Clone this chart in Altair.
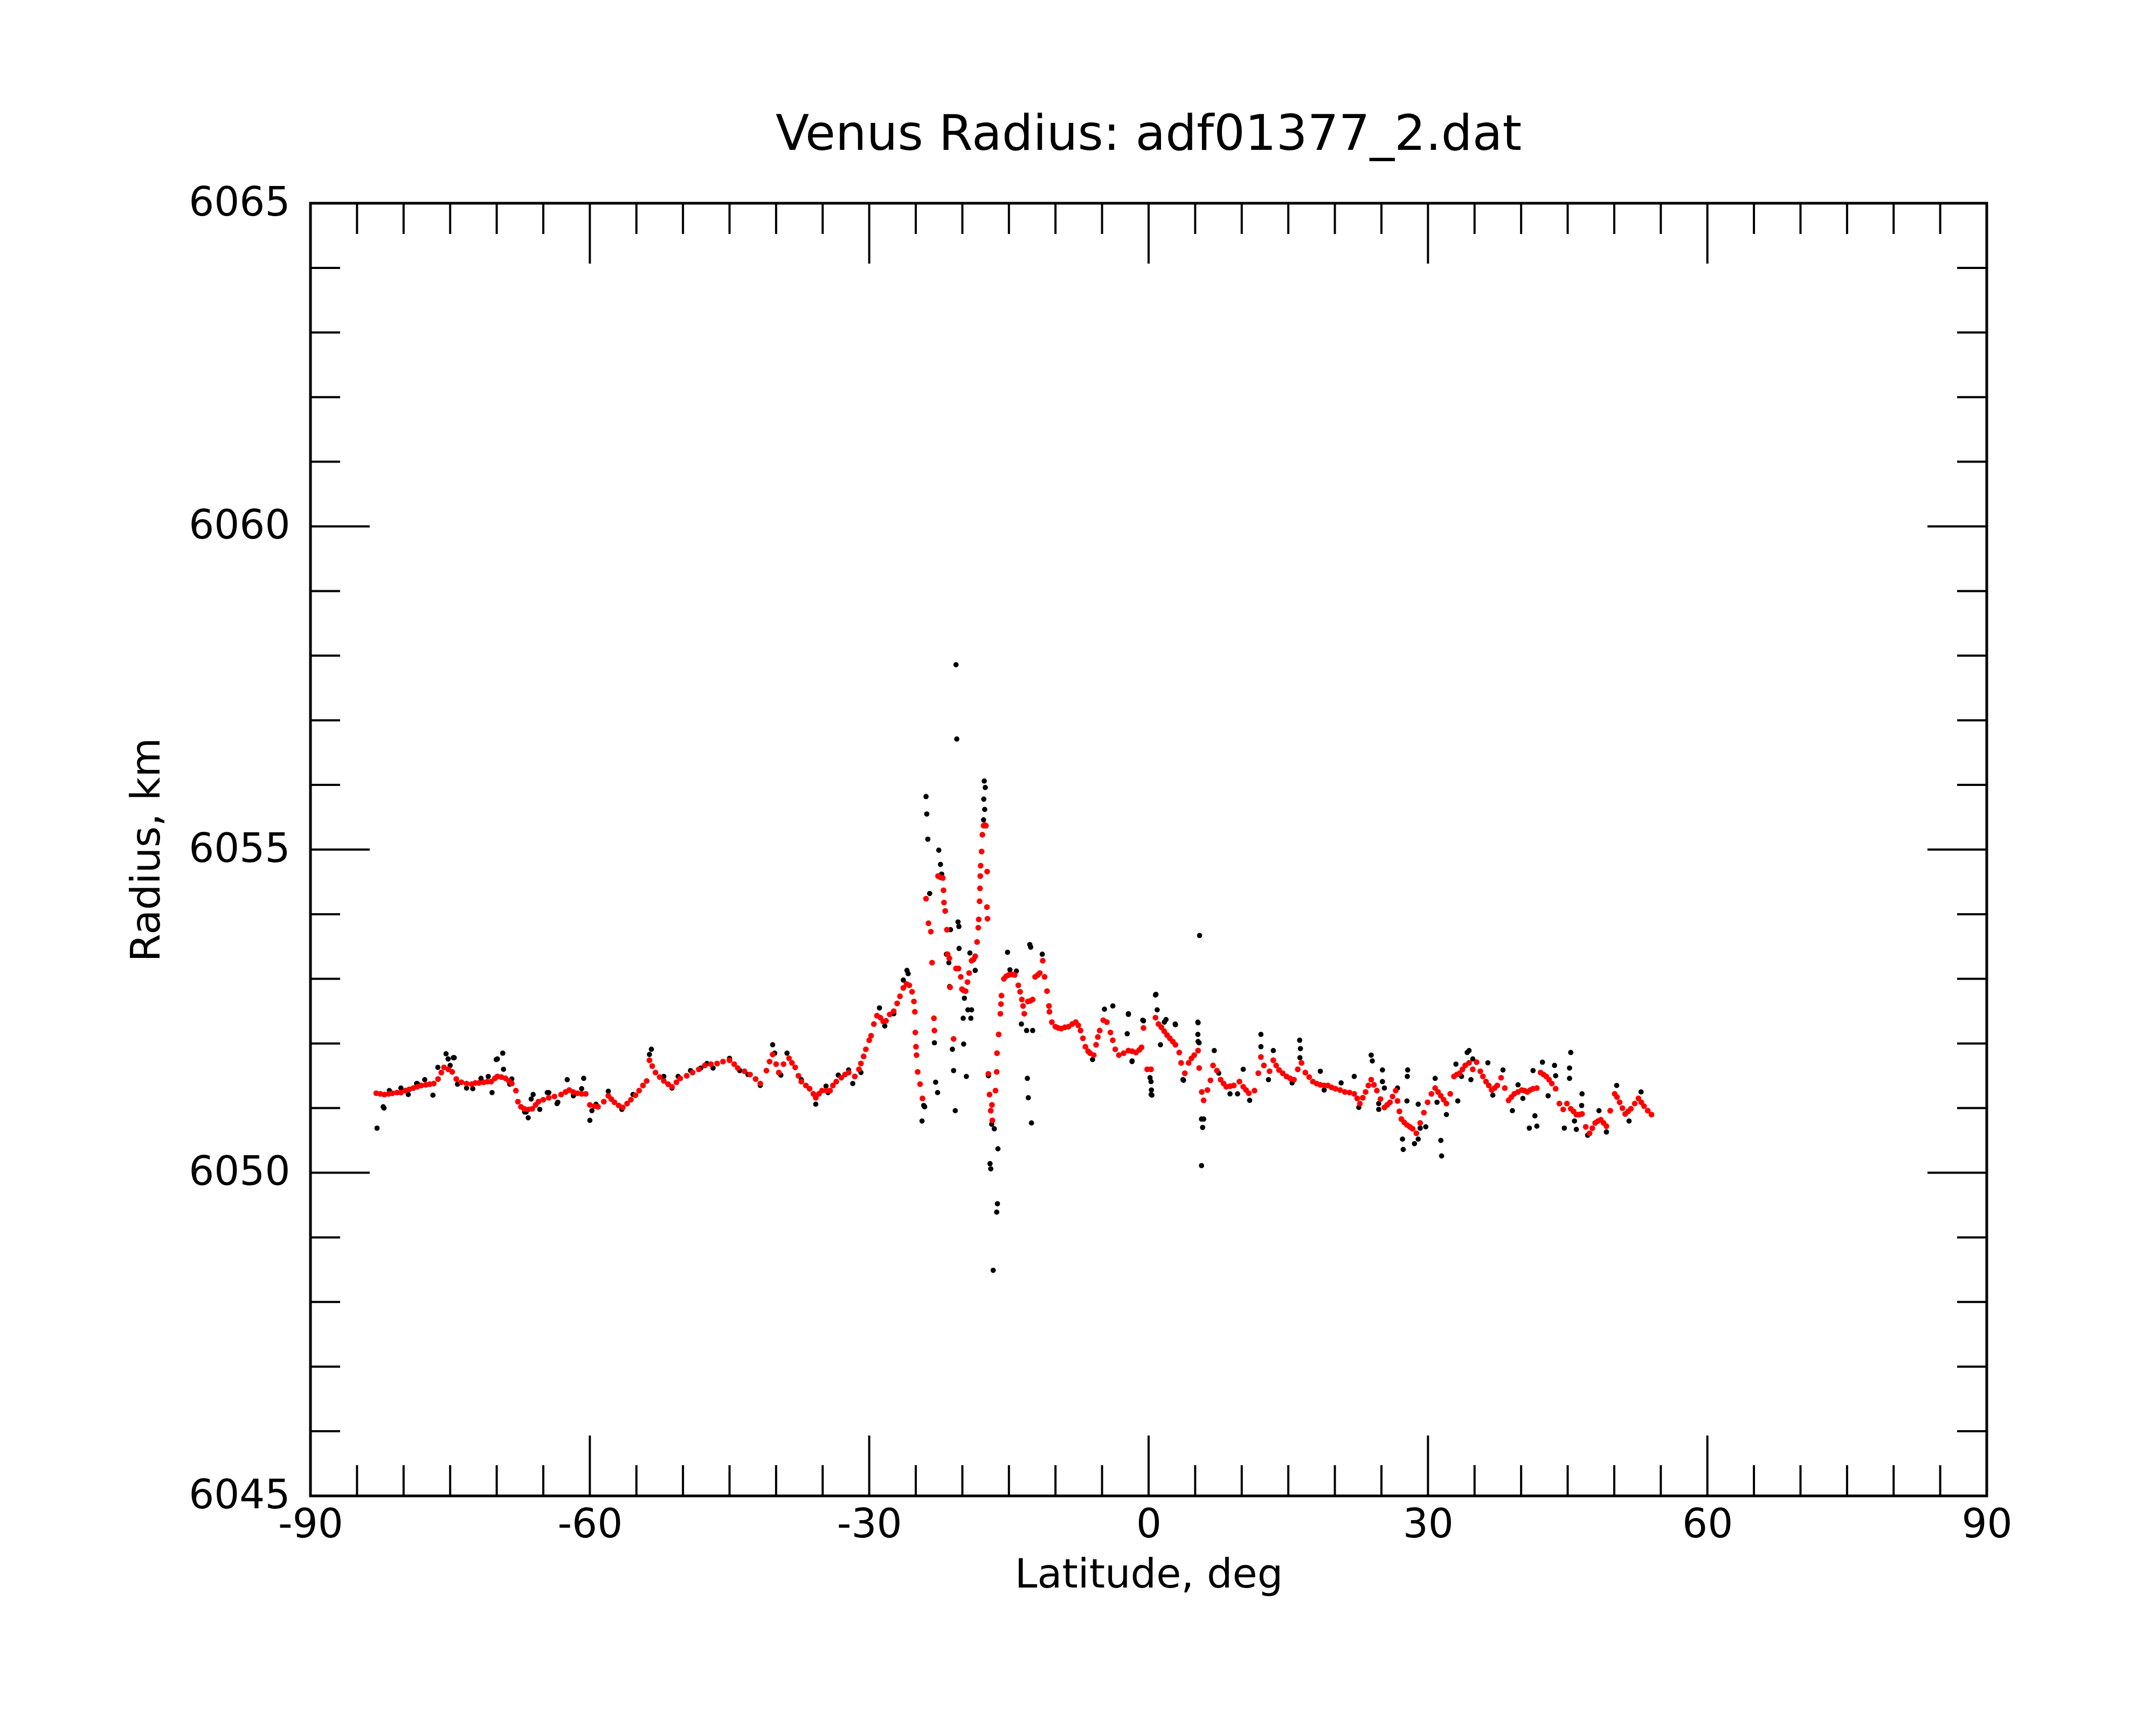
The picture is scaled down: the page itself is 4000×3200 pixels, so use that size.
import altair as alt
import pandas as pd

# ---------------- data ----------------
red_lat = [-82.94, -82.5, -82.06, -81.6, -81.2, -80.7, -80.29, -79.8, -79.4, -78.95, -78.53, -78.1, -77.6, -77.2,
           -76.76, -76.3, -75.95, -75.66, -75.2, -74.78, -74.34, -73.8, -73.24, -72.7, -72.3, -71.9, -71.4, -71.0,
           -70.59, -70.2, -69.93, -69.5, -69.05, -68.7, -68.38, -67.94, -67.72, -67.4, -67.06, -66.6, -66.18, -65.82,
           -65.52, -65.0, -64.41, -63.8, -63.09, -62.6, -62.21, -61.8, -61.33, -60.9, -60.44, -60.0, -59.5, -59.12,
           -58.5, -58.02, -57.7, -57.36, -56.9, -56.47, -56.0, -55.59, -55.1, -54.71, -54.3, -53.9, -53.6, -53.3,
           -52.95, -52.5, -52.06, -51.6, -51.18, -50.7, -50.3, -49.6, -48.97, -48.3, -47.65, -47.0, -46.33, -45.7,
           -45.0, -44.5, -44.12, -43.4, -42.8, -42.2, -41.7, -41.04, -40.7, -40.37, -40.0, -39.71, -39.2, -38.61,
           -38.3, -37.95, -37.6, -37.29, -36.8, -36.4, -36.0, -35.74, -35.4, -35.08, -34.6, -34.2, -33.9, -33.54,
           -33.0, -32.6, -32.21, -31.55, -31.1, -30.89, -30.6, -30.36, -30.0, -29.8, -29.5, -29.17, -28.8, -28.5,
           -28.2, -27.8, -27.37, -27.0, -26.7, -26.34, -26.0, -25.7, -25.4, -25.2, -25.1, -25.05, -24.98, -24.92,
           -24.8, -24.54, -24.28, -23.9, -23.64, -23.38, -23.25, -23.05, -23.0, -22.61, -22.35, -22.1, -22.02,
           -21.97, -21.84, -21.66, -21.58, -21.4, -21.32, -20.94, -20.68, -20.42, -20.17, -20.04, -19.85, -19.65,
           -19.45, -19.27, -19.01, -18.8, -18.62, -18.42, -18.29, -18.24, -18.15, -18.11, -18.07, -18.03, -17.93,
           -17.85, -17.72, -17.6, -17.47, -17.34, -17.36, -17.3, -17.21, -17.08, -16.95, -16.82, -16.78, -16.44,
           -16.31, -16.28, -16.1, -15.92, -15.85, -15.8, -15.54, -15.3, -15.02, -14.7, -14.38, -13.99, -13.8,
           -13.61, -13.48, -13.35, -12.97, -12.7, -12.45, -12.19, -11.9, -11.68, -11.37, -11.17, -10.91, -10.7,
           -10.65, -10.39, -10.01, -9.7, -9.37, -9.0, -8.6, -8.2, -7.82, -7.55, -7.31, -7.05, -6.79, -6.5, -6.28,
           -5.89, -5.64, -5.45, -5.25, -4.87, -4.48, -4.1, -3.85, -3.58, -3.19, -2.68, -2.17, -1.77, -1.36, -1.0,
           -0.76, -0.55, -0.15, 0.26, 0.74, 1.06, 1.37, 1.67, 1.98, 2.28, 2.6, 2.88, 3.29, 3.49, 3.89, 4.3, 4.6,
           4.9, 5.31, 5.43, 5.71, 5.91, 6.32, 6.64, 6.92, 7.33, 7.73, 8.05, 8.34, 8.75, 9.15, 9.75, 10.16, 10.46,
           10.76, 11.37, 11.78, 12.06, 12.38, 12.99, 13.39, 13.7, 14.0, 14.4, 14.81, 15.2, 15.61, 16.02, 16.42,
           16.83, 17.24, 17.64, 18.04, 18.44, 18.85, 19.25, 19.65, 20.06, 20.56, 21.07, 21.57, 22.08, 22.4, 22.69,
           23.0, 23.3, 23.6, 23.9, 24.2, 24.51, 24.9, 25.32, 25.62, 25.92, 26.2, 26.53, 26.73, 26.93, 27.14, 27.44,
           27.74, 28.05, 28.35, 28.75, 29.16, 29.56, 29.96, 30.37, 30.77, 31.08, 31.38, 31.68, 31.98, 32.39, 32.79,
           33.1, 33.4, 33.7, 34.0, 34.41, 34.81, 35.22, 35.62, 35.9, 36.23, 36.53, 36.84, 37.14, 37.44, 37.85,
           38.25, 38.65, 38.95, 39.26, 39.66, 40.07, 40.37, 40.67, 40.98, 41.28, 41.69, 42.09, 42.4, 42.7, 43.0,
           43.3, 43.71, 44.11, 44.52, 44.92, 45.33, 45.63, 45.93, 46.24, 46.54, 46.94, 47.35, 47.65, 47.95, 48.26,
           48.56, 48.86, 49.16, 49.57, 50.05, 50.3, 50.58, 50.88, 51.18, 51.49, 51.79, 52.2, 52.6, 52.9, 53.2,
           53.6, 54.0]
red_r = [6051.23, 6051.22, 6051.21, 6051.22, 6051.23, 6051.24, 6051.24, 6051.27, 6051.29, 6051.31, 6051.33, 6051.35,
         6051.36, 6051.37, 6051.38, 6051.45, 6051.55, 6051.63, 6051.6, 6051.56, 6051.45, 6051.4, 6051.38, 6051.37,
         6051.39, 6051.39, 6051.4, 6051.41, 6051.41, 6051.46, 6051.49, 6051.48, 6051.46, 6051.42, 6051.38, 6051.27,
         6051.10, 6051.02, 6050.99, 6050.98, 6050.99, 6051.05, 6051.10, 6051.13, 6051.16, 6051.18, 6051.21, 6051.25,
         6051.28, 6051.25, 6051.23, 6051.22, 6051.22, 6051.05, 6051.03, 6051.02, 6051.1, 6051.19, 6051.14, 6051.09,
         6051.04, 6051.01, 6051.07, 6051.13, 6051.2, 6051.27, 6051.35, 6051.42, 6051.74, 6051.65, 6051.55, 6051.48,
         6051.42, 6051.37, 6051.33, 6051.4, 6051.46, 6051.5, 6051.55, 6051.6, 6051.66, 6051.68, 6051.69, 6051.72,
         6051.74, 6051.68, 6051.62, 6051.57, 6051.52, 6051.45, 6051.38, 6051.58, 6051.72, 6051.83, 6051.68, 6051.55,
         6051.68, 6051.77, 6051.7, 6051.63, 6051.5, 6051.41, 6051.35, 6051.30, 6051.22, 6051.16, 6051.22, 6051.27,
         6051.27, 6051.27, 6051.35, 6051.41, 6051.47, 6051.52, 6051.55, 6051.49, 6051.6, 6051.69, 6051.8, 6051.91,
         6052.05, 6052.12, 6052.3, 6052.43, 6052.4, 6052.34, 6052.35, 6052.45, 6052.5, 6052.62, 6052.73, 6052.86,
         6052.92, 6052.9, 6052.8, 6052.65, 6052.49, 6052.17, 6051.95, 6051.82, 6051.56, 6051.37, 6051.15, 6054.24,
         6053.86, 6053.73, 6053.25, 6052.39, 6052.2, 6054.59, 6054.57, 6054.56, 6054.37, 6054.18, 6054.05, 6053.76,
         6053.38, 6053.32, 6052.87, 6052.07, 6053.16, 6053.16, 6053.03, 6052.84, 6052.82, 6052.81, 6052.95, 6053.09,
         6053.28, 6053.3, 6053.35, 6053.57, 6053.79, 6053.92, 6054.2, 6054.40, 6054.59, 6054.75, 6054.97, 6055.23,
         6055.37, 6055.38, 6055.37, 6054.66, 6054.11, 6053.93, 6051.53, 6051.21, 6050.96, 6051.05, 6050.81, 6051.27,
         6051.56, 6051.85, 6052.14, 6052.46, 6052.61, 6052.74, 6053.0, 6053.04, 6053.06, 6053.07, 6053.06, 6052.9,
         6052.8, 6052.68, 6052.58, 6052.46, 6052.65, 6052.66, 6052.68, 6053.03, 6053.06, 6053.09, 6053.28, 6053.03,
         6052.81, 6052.58, 6052.49, 6052.33, 6052.26, 6052.24, 6052.23, 6052.25, 6052.26, 6052.3, 6052.33, 6052.28,
         6052.2, 6052.08, 6051.95, 6051.88, 6051.85, 6051.82, 6051.98, 6052.1, 6052.2, 6052.36, 6052.33, 6052.17,
         6052.05, 6051.91, 6051.82, 6051.85, 6051.89, 6051.88, 6051.86, 6051.9, 6051.94, 6052.24, 6051.6, 6051.6,
         6052.4, 6052.3, 6052.25, 6052.19, 6052.13, 6052.08, 6052.03, 6051.98, 6051.86, 6051.7, 6051.54, 6051.7,
         6051.77, 6051.82, 6051.89, 6051.62, 6051.25, 6051.12, 6051.28, 6051.43, 6051.66, 6051.58, 6051.44, 6051.38,
         6051.33, 6051.34, 6051.35, 6051.41, 6051.33, 6051.28, 6051.23, 6051.27, 6051.54, 6051.79, 6051.66, 6051.57,
         6051.74, 6051.66, 6051.59, 6051.54, 6051.49, 6051.46, 6051.44, 6051.6, 6051.7, 6051.55, 6051.48, 6051.41,
         6051.38, 6051.36, 6051.35, 6051.35, 6051.32, 6051.3, 6051.28, 6051.25, 6051.24, 6051.22, 6051.15, 6051.07,
         6051.16, 6051.25, 6051.35, 6051.44, 6051.36, 6051.27, 6051.14, 6051.01, 6051.05, 6051.09, 6051.18, 6051.27,
         6051.11, 6050.95, 6050.83, 6050.78, 6050.74, 6050.71, 6050.68, 6050.61, 6050.77, 6050.93, 6051.09, 6051.22,
         6051.31, 6051.25, 6051.19, 6051.13, 6051.07, 6051.22, 6051.49, 6051.52, 6051.54, 6051.6, 6051.66, 6051.7,
         6051.6, 6051.71, 6051.57, 6051.49, 6051.41, 6051.35, 6051.28, 6051.31, 6051.35, 6051.47, 6051.31, 6051.12,
         6051.17, 6051.22, 6051.25, 6051.28, 6051.27, 6051.25, 6051.28, 6051.3, 6051.31, 6051.55, 6051.52, 6051.49,
         6051.44, 6051.38, 6051.3, 6051.07, 6050.98, 6051.07, 6050.99, 6050.95, 6050.9, 6050.9, 6050.91, 6050.71,
         6050.61, 6050.69, 6050.77, 6050.8, 6050.82, 6050.77, 6050.72, 6050.96, 6051.22, 6051.17, 6051.09, 6051.0,
         6050.91, 6050.95, 6050.99, 6051.07, 6051.15, 6051.09, 6051.03, 6050.96, 6050.9]

black_lat = [-82.85, -82.19, -82.1, -81.53, -80.29, -79.5, -78.53, -77.73, -76.85, -76.32, -75.44, -75.22, -74.56,
             -74.21, -73.24, -72.57, -71.69, -70.5, -69.93, -69.35, -69.27, -68.38, -66.84, -66.62, -66.09, -65.38,
             -64.41, -63.44, -62.43, -61.77, -60.88, -60.66, -60.0, -59.78, -59.34, -58.02, -56.56, -55.37, -54.27,
             -53.39, -53.6, -52.06, -51.18, -50.52, -49.19, -48.09, -47.43, -46.77, -45.0, -43.9, -43.02, -41.7,
             -40.37, -40.15, -39.49, -38.83, -37.29, -35.74, -34.64, -34.42, -33.32, -32.21, -31.77, -30.89, -28.9,
             -28.33, -27.36, -25.95, -25.82, -26.34, -24.33, -24.15, -24.05,
             -23.9, -23.82, -23.71, -23.51, -23.0, -22.87, -22.66, -22.53, -22.35, -22.22, -21.71, -21.45, -21.37,
             -21.27, -21.07, -20.94, -20.76, -20.68, -20.6, -20.47, -20.37, -20.35, -19.91, -19.86, -19.78, -19.57,
             -19.4, -19.19, -19.09, -19.01, -18.62, -17.72, -17.7, -17.65, -17.6, -17.54, -17.2, -17.03, -16.95,
             -16.85, -16.69, -16.57, -16.31, -16.23, -16.18, -15.15, -14.89, -14.2, -13.66, -13.1, -13.02, -12.92,
             -12.76, -12.66, -12.58, -12.45, -11.42, -6.02, -4.74, -3.84, -2.3, -2.17, -1.78, -0.63, 0.15, 0.27,
             0.79, 0.92, 1.69, 2.85, 3.75, 5.29, 5.29, 5.42, 5.47, 5.68, 5.8, 5.68,
             -2.17, -0.55, 0.74, 1.87, 2.88, 5.31, 5.31, -1.77, 0.26, 0.3, 0.35, 3.69, 1.27, 5.91, 7.05, 7.53, 8.74,
             9.55, 10.16, 10.85, 12.06, 12.06, 13.39, 12.87, 16.22, 16.3, 16.25, 15.41, 18.44, 18.85, 20.67, 22.08,
             22.57, 23.9, 24.02, 25.11, 25.11, 25.32, 24.71, 24.71, 26.73, 27.82, 27.78, 27.74, 27.26, 27.34, 28.95,
             28.55, 29.16, 29.76, 28.95, 30.77, 30.97, 31.98, 31.38, 31.46, 33.2, 33.0, 34.21, 34.41, 34.81, 33.6,
             34.61, 36.43, 36.96, 38.05, 39.06, 39.67, 40.19, 40.88, 41.48, 41.69, 42.29, 41.28, 43.59, 43.71, 42.9,
             45.33, 45.2, 45.2, 44.64, 45.93, 45.73, 46.54, 46.5, 48.36, 49.16, 50.26, 51.59, 52.88, 47.14,
             -78.6, -75.0, -74.66, -70.91, -70.05, -68.6, -67.0, -66.3, -64.57, -63.52]
black_r = [6050.69, 6051.02, 6051.0, 6051.27, 6051.31, 6051.21, 6051.38, 6051.44, 6051.2, 6051.63, 6051.84, 6051.76,
           6051.78, 6051.37, 6051.31, 6051.3, 6051.46, 6051.24, 6051.76, 6051.85, 6051.6, 6051.45, 6050.94, 6050.85,
           6051.21, 6050.98, 6051.24, 6051.09, 6051.44, 6051.19, 6051.3, 6051.46, 6050.81, 6050.96, 6051.06, 6051.26,
           6050.98, 6051.21, 6051.35, 6051.91, 6051.83, 6051.49, 6051.31, 6051.49, 6051.58, 6051.62, 6051.69, 6051.62,
           6051.77, 6051.58, 6051.52, 6051.35, 6051.98, 6051.85, 6051.51, 6051.85, 6051.44, 6051.06, 6051.34, 6051.24,
           6051.51, 6051.59, 6051.38, 6051.55, 6052.55, 6052.27, 6052.46, 6053.13, 6053.08, 6052.98, 6050.8, 6051.04,
           6051.02,
           6055.82, 6055.55, 6055.16, 6054.32, 6052.01, 6051.4, 6051.24, 6054.99, 6054.77, 6054.62, 6053.38, 6053.25,
           6052.88, 6053.76, 6051.91, 6051.58, 6050.96, 6057.86, 6056.71, 6053.88, 6053.81, 6053.47, 6052.39, 6051.99,
           6052.7, 6051.49, 6052.52, 6053.4, 6052.39, 6052.52, 6053.13, 6055.46, 6055.78, 6056.06, 6055.62, 6055.96,
           6051.5, 6050.14, 6050.06, 6050.75, 6048.49, 6050.68, 6049.39, 6049.52, 6050.37, 6053.41, 6053.14, 6053.12,
           6052.3, 6052.2, 6051.46, 6051.16, 6053.53, 6053.49, 6050.77, 6052.2, 6053.38, 6051.75, 6052.53, 6052.58,
           6052.15, 6052.46, 6051.72, 6052.36, 6051.47, 6051.21, 6052.76, 6052.52, 6052.33, 6052.3, 6051.43, 6052.33,
           6052.14, 6052.01, 6053.67, 6050.83, 6050.7, 6050.11,
           6052.45, 6052.35, 6052.75, 6052.37, 6052.29, 6052.32, 6052.03, 6051.73, 6051.41, 6051.28, 6051.2, 6051.44,
           6051.98, 6050.83, 6051.89, 6051.54, 6051.22, 6051.22, 6051.6, 6051.12, 6052.14, 6051.95, 6051.89, 6051.44,
           6052.05, 6051.92, 6051.78, 6051.39, 6051.57, 6051.28, 6051.39, 6051.49, 6051.01, 6051.82, 6051.73, 6051.59,
           6051.41, 6051.31, 6051.07, 6050.98, 6051.31, 6051.59, 6051.49, 6051.11, 6050.52, 6050.36, 6050.52, 6050.45,
           6050.69, 6050.71, 6051.06, 6051.46, 6051.09, 6050.9, 6050.5, 6050.26, 6051.11, 6051.68, 6051.86, 6051.89,
           6051.76, 6051.49, 6051.44, 6051.7, 6051.2, 6051.59, 6050.96, 6051.36, 6051.15, 6050.69, 6050.88, 6050.72,
           6051.71, 6051.58, 6051.66, 6051.5, 6051.19, 6051.86, 6051.62, 6051.46, 6050.69, 6050.67, 6050.8, 6051.22,
           6051.04, 6050.96, 6050.63, 6051.35, 6050.8, 6051.25, 6050.58,
           6051.38, 6051.66, 6051.78, 6051.49, 6051.75, 6051.37, 6050.94, 6051.14, 6051.24, 6051.07]

x_label_values = [-90, -60, -30, 0, 30, 60, 90]
y_label_values = [6045, 6050, 6055, 6060, 6065]
x_major_ticks = [-60, -30, 0, 30, 60]
x_minor_ticks = [-85, -80, -75, -70, -65, -55, -50, -45, -40, -35, -25, -20, -15, -10, -5,
                 5, 10, 15, 20, 25, 35, 40, 45, 50, 55, 65, 70, 75, 80, 85]
y_major_ticks = [6050, 6055, 6060]
y_minor_ticks = [6046, 6047, 6048, 6049, 6051, 6052, 6053, 6054, 6056, 6057, 6058, 6059,
                 6061, 6062, 6063, 6064]

title_text = "Venus Radius: adf01377_2.dat"
x_title = "Latitude, deg"
y_title = "Radius, km"

# ---------------- layout / styles ----------------
W, H = 3110, 2398
FONT = "DejaVu Sans"
TICK_W = 4
X_MAJ, X_MIN = 112, 57
Y_MAJ, Y_MIN = 110, 55

red_df = pd.DataFrame({"lat": red_lat, "r": red_r})
black_df = pd.DataFrame({"lat": black_lat, "r": black_r})

xscale = alt.Scale(domain=[-90, 90], nice=False, zero=False)
yscale = alt.Scale(domain=[6045, 6065], nice=False, zero=False)

# plain hyphen-minus as in the original labels
hyphen_labels = "datum.value < 0 ? '-' + abs(datum.value) : '' + datum.value"
x_axis = alt.Axis(values=x_label_values, labelExpr=hyphen_labels, title=x_title)
y_axis = alt.Axis(values=y_label_values, labelExpr=hyphen_labels, title=y_title)


def xenc(field):
    return alt.X(f"{field}:Q", scale=xscale, axis=x_axis)


def yenc(field):
    return alt.Y(f"{field}:Q", scale=yscale, axis=y_axis)


layers = []
# x ticks (bottom and top, pointing inward)
for vals, ln in [(x_major_ticks, X_MAJ), (x_minor_ticks, X_MIN)]:
    d = pd.DataFrame({"v": vals})
    layers.append(alt.Chart(d).mark_rule(color="black", strokeWidth=TICK_W).encode(
        x=xenc("v"), y=alt.value(H), y2=alt.value(H - ln)))
    layers.append(alt.Chart(d).mark_rule(color="black", strokeWidth=TICK_W).encode(
        x=xenc("v"), y=alt.value(0), y2=alt.value(ln)))
# y ticks (left and right, pointing inward)
for vals, ln in [(y_major_ticks, Y_MAJ), (y_minor_ticks, Y_MIN)]:
    d = pd.DataFrame({"v": vals})
    layers.append(alt.Chart(d).mark_rule(color="black", strokeWidth=TICK_W).encode(
        y=yenc("v"), x=alt.value(0), x2=alt.value(ln)))
    layers.append(alt.Chart(d).mark_rule(color="black", strokeWidth=TICK_W).encode(
        y=yenc("v"), x=alt.value(W), x2=alt.value(W - ln)))

black = alt.Chart(black_df).mark_circle(color="black", size=95, opacity=1).encode(
    x=xenc("lat"), y=yenc("r"))
red = alt.Chart(red_df).mark_circle(color="#ff0000", size=115, opacity=1).encode(
    x=xenc("lat"), y=yenc("r"))
layers += [black, red]

chart = alt.layer(*layers).properties(
    width=W, height=H,
    title=alt.TitleParams(title_text, font=FONT, fontSize=91, fontWeight="normal", color="black",
                          anchor="middle", frame="group", baseline="alphabetic", offset=96, dy=125),
    autosize=alt.AutoSizeParams(type="none"),
    padding={"left": 568, "top": 369, "right": 290, "bottom": 400},
    background="white",
).configure_view(
    stroke="black", strokeWidth=5, fill="white"
).configure_axis(
    ticks=False, domain=False, grid=False, tickSize=0,
    labelFont=FONT, labelFontSize=74, labelColor="black", labelFlush=False, labelOverlap=False,
    labelLimit=1000,
    titleFont=FONT, titleFontSize=75, titleFontWeight="normal", titleColor="black",
).configure_axisX(
    labelPadding=18, titleBaseline="alphabetic", titleY=169, titleAlign="center",
).configure_axisY(
    labelPadding=38, titleBaseline="alphabetic", titleX=-281, titleY=H / 2, titleAngle=270,
    titleAlign="center",
)

chart.save("out.html", embed_options={"renderer": "svg", "actions": False})
